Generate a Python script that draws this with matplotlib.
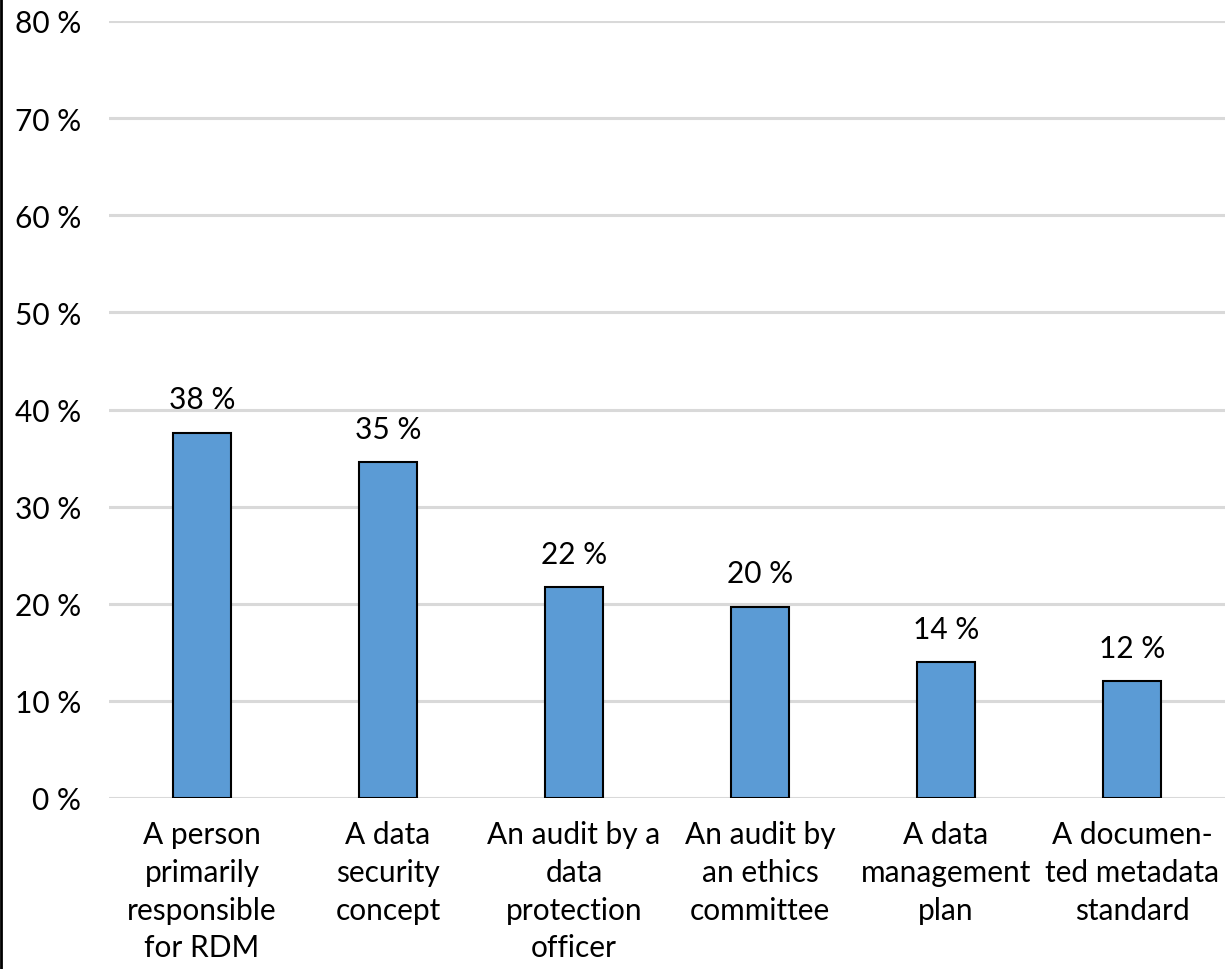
import matplotlib
matplotlib.use("Agg")
import matplotlib.pyplot as plt
from matplotlib.lines import Line2D

categories = [
    "A person\nprimarily\nresponsible\nfor RDM",
    "A data\nsecurity\nconcept",
    "An audit by a\ndata\nprotection\nofficer",
    "An audit by\nan ethics\ncommittee",
    "A data\nmanagement\nplan",
    "A documen-\nted metadata\nstandard",
]
values = [37.6, 34.6, 21.7, 19.7, 14.0, 12.0]
labels = ["38 %", "35 %", "22 %", "20 %", "14 %", "12 %"]
yticks = [0, 10, 20, 30, 40, 50, 60, 70, 80]

plt.rcParams['font.family'] = ['Lato', 'DejaVu Sans']
fs = 21.5

fig = plt.figure(figsize=(12.26, 9.70), dpi=100)
ax = fig.add_axes([109/1226, 1-799/970, 1116/1226, 777/970])

x = list(range(len(categories)))
ax.bar(x, values, width=0.31, color="#5b9bd5", edgecolor="black", linewidth=1.5, zorder=3)
for xi, v, lab in zip(x, values, labels):
    ax.annotate(lab, (xi, v), xytext=(0, 14), textcoords="offset points",
                ha="center", va="bottom", fontsize=fs, color="black")

ax.set_xlim(-0.5, len(categories) - 0.5)
ax.set_ylim(0, 80)
ax.set_yticks(yticks)
ax.set_yticklabels([f"{t} %" for t in yticks], fontsize=fs)
ax.set_xticks(x)
ax.set_xticklabels(categories, fontsize=fs, linespacing=1.42, va="top")
ax.tick_params(axis="both", length=0, pad=20)
ax.tick_params(axis="x", pad=16)
ax.yaxis.grid(True, color="#d9d9d9", linewidth=2.2, zorder=0)
ax.set_axisbelow(True)
for s in ax.spines.values():
    s.set_visible(False)

fig.add_artist(Line2D([0.001, 0.001], [0, 1], color="black", linewidth=2, transform=fig.transFigure))

fig.savefig("out.png", dpi=100)
